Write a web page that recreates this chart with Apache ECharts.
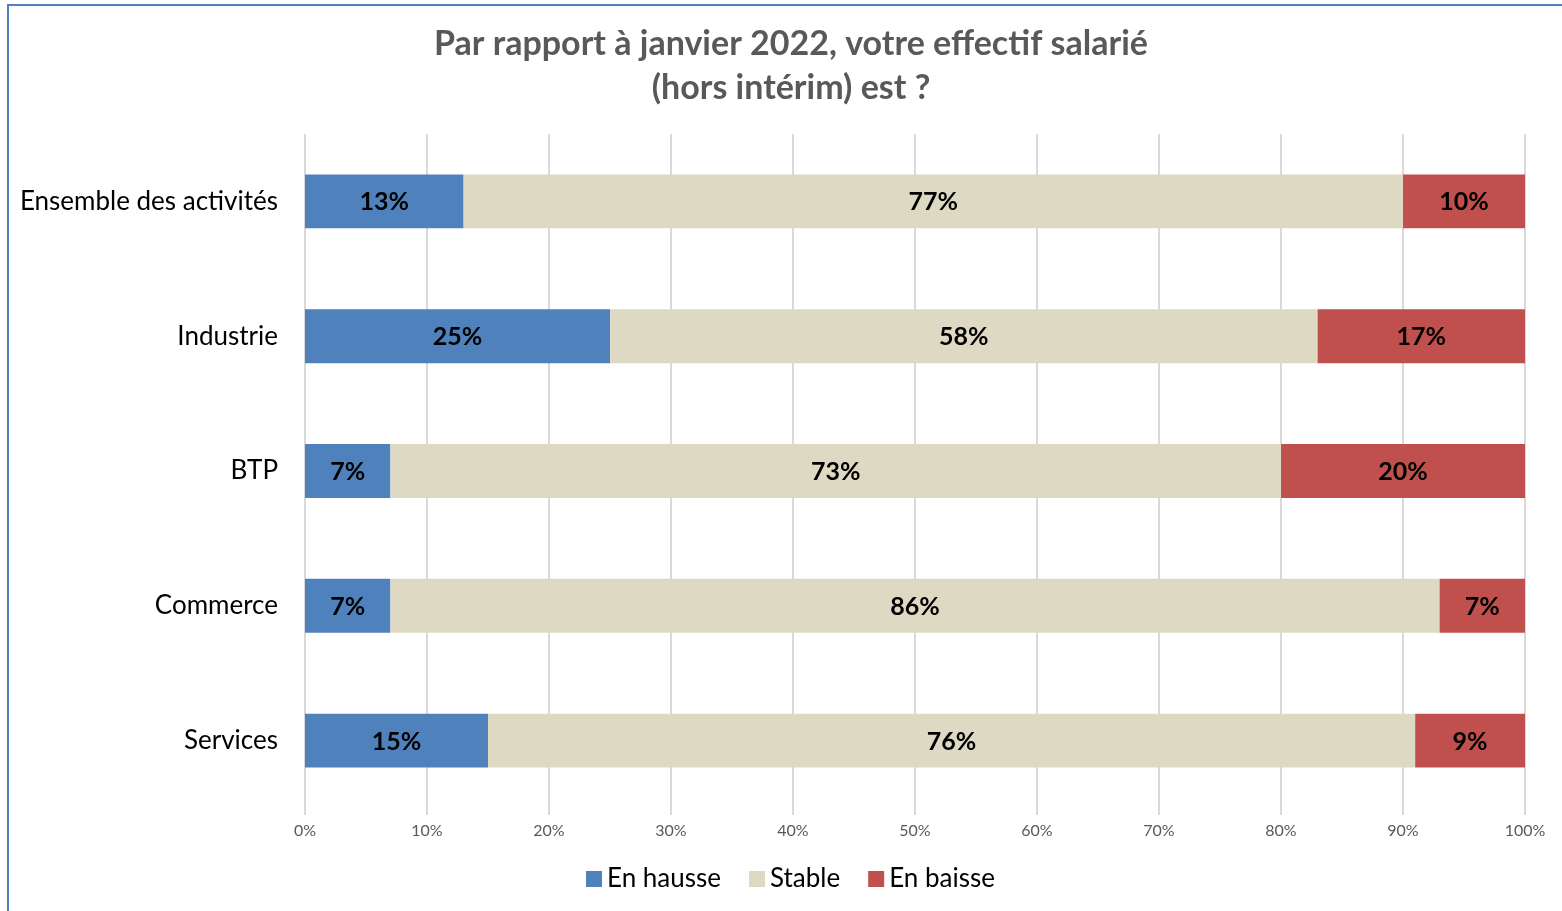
<!DOCTYPE html>
<html><head><meta charset="utf-8">
<script src="https://cdn.jsdelivr.net/npm/echarts@6/dist/echarts.min.js"></script>
<style>
html,body{margin:0;padding:0;background:#fff;}
#frame{position:absolute;left:7px;top:4px;width:1570px;height:920px;border:2px solid #4F81BD;box-sizing:border-box;}
#chart{position:absolute;left:0;top:0;width:1562px;height:911px;}
</style></head>
<body>
<div id="frame"></div>
<div id="chart"></div>
<script>
const categories = ["Ensemble des activités", "Industrie", "BTP", "Commerce", "Services"];
const enHausse = [13, 25, 7, 7, 15];
const stable = [77, 58, 73, 86, 76];
const enBaisse = [10, 17, 20, 7, 9];
const xTicks = [0, 10, 20, 30, 40, 50, 60, 70, 80, 90, 100];
const seriesNames = ["En hausse", "Stable", "En baisse"];
const colors = ["#4F81BD", "#DDD9C3", "#C0504D"];

const chart = echarts.init(document.getElementById('chart'));
const font = 'Lato, "Open Sans", sans-serif';
function mk(name, data, color) {
  return {
    name: name, type: 'bar', stack: 'total', data: data, barWidth: '40%',
    itemStyle: {color: color},
    label: {show: true, position: 'inside', formatter: '{c}%', color: '#000', fontWeight: 'bold', fontSize: 25, fontFamily: font, offset: [0, 1]},
    emphasis: {disabled: true}
  };
}
chart.setOption({
  animation: false,
  title: {
    text: 'Par rapport à janvier 2022, votre effectif salarié\n(hors intérim) est ?',
    left: 786, textAlign: 'center', top: 17,
    textStyle: {color: '#595959', fontSize: 34, fontWeight: 'bold', fontFamily: font, lineHeight: 44}
  },
  grid: {left: 305, right: 37, top: 134, bottom: 103, containLabel: false},
  xAxis: {
    type: 'value', min: 0, max: 100, interval: 10,
    axisLabel: {formatter: v => xTicks.includes(v) ? v + '%' : '', color: '#595959', fontSize: 16, fontFamily: font, margin: 15},
    splitLine: {show: true, lineStyle: {color: '#D9D9D9', width: 2}},
    axisLine: {show: false},
    axisTick: {show: true, length: 7, lineStyle: {color: '#D9D9D9', width: 2}}
  },
  yAxis: {
    type: 'category', data: categories, inverse: true,
    axisLine: {show: false}, axisTick: {show: false},
    axisLabel: {color: '#000', fontSize: 26, fontFamily: font, margin: 27}
  },
  legend: {
    data: seriesNames, bottom: 14, left: 581, itemWidth: 16, itemHeight: 16, itemGap: 28,
    icon: 'rect',
    textStyle: {color: '#000', fontSize: 26, fontFamily: font}
  },
  series: [mk(seriesNames[0], enHausse, colors[0]), mk(seriesNames[1], stable, colors[1]), mk(seriesNames[2], enBaisse, colors[2])]
});
</script>
</body></html>
